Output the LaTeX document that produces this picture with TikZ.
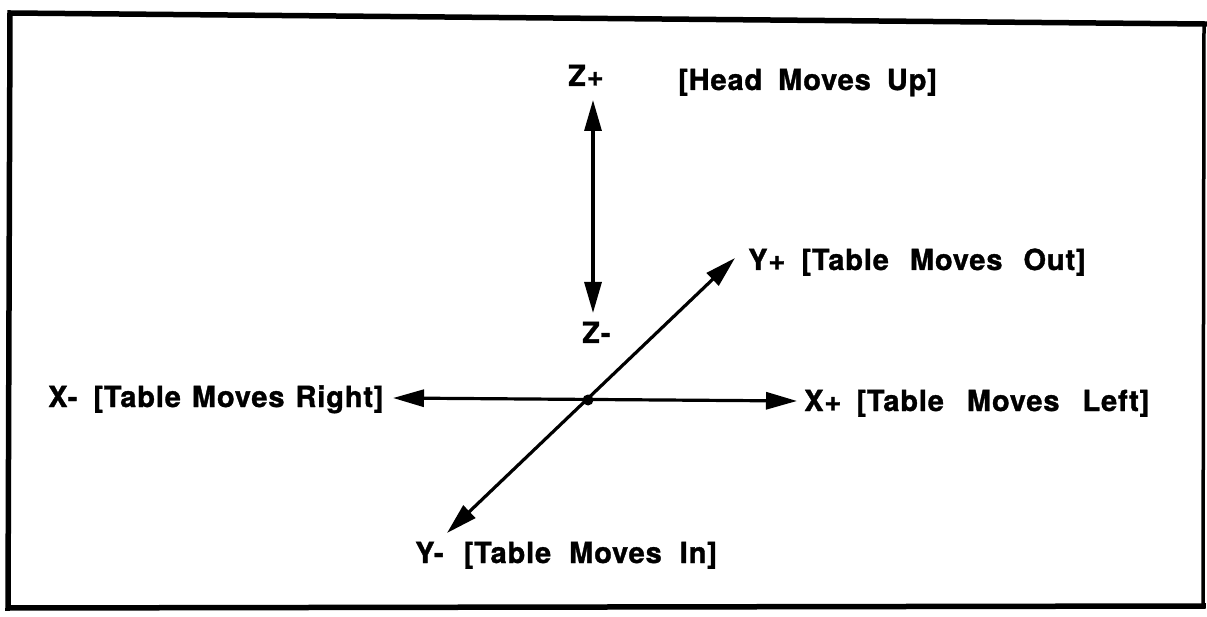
\documentclass[tikz,border=0pt]{standalone}
\usepackage{fontspec}
\setmainfont{TeX Gyre Heros}
\newfontfamily\labfont{TeX Gyre Heros}[BoldFeatures={FakeBold=1.2,LetterSpace=3}]
\usetikzlibrary{arrows.meta}
\begin{document}
\begin{tikzpicture}[x=1pt,y=-1pt,
  lab/.style={anchor=base west, inner sep=0pt, font=\labfont\fontsize{29}{33}\selectfont\bfseries},
  axis/.style={line width=3.2pt, {Triangle[length=31pt,width=17pt]}-{Triangle[length=31pt,width=17pt]}},
  frameline/.style={line width=5.5pt, line cap=rect}]
\useasboundingbox (0,0) rectangle (1207,617);
% frame
\coordinate (f1) at (10,13);
\coordinate (f2) at (1204,24);
\coordinate (f3) at (1203,606);
\coordinate (f4) at (8,608);
\draw[frameline] (f2) -- (f1) -- (f4) -- (f3);
\draw[line width=3.5pt] (f2) -- (f3);
% axis end points
\coordinate (o) at (588,400);
\coordinate (zt) at (593,100);
\coordinate (zb) at (593,313);
\coordinate (xl) at (393,398);
\coordinate (xr) at (797,401);
\coordinate (yb) at (447,533);
\coordinate (yt) at (735,258);
% axes
\draw[axis] (xl) -- (xr);
\draw[axis] (yb) -- (yt);
\draw[axis] (zt) -- (zb);
\fill (o) circle (5.5pt);
% labels
\node[lab] (zp) at (568,86) {Z+};
\node[lab] (zpt) at (678,90) {[Head\hspace{16pt}Moves\hspace{16pt}Up]};
\node[lab] (zm) at (582,343) {Z-};
\node[lab] (xm) at (48,407) {X-\hspace{16pt}[Table\hspace{11pt}Moves\hspace{11pt}Right]};
\node[lab] (xp) at (804,411) {X+\hspace{15pt}[Table\hspace{23pt}Moves\hspace{23pt}Left]};
\node[lab] (yp) at (748,270) {Y+\hspace{16pt}[Table\hspace{21pt}Moves\hspace{21pt}Out]};
\node[lab] (ym) at (415,563) {Y-\hspace{20pt}[Table\hspace{18pt}Moves\hspace{18pt}In]};
\end{tikzpicture}
\end{document}
